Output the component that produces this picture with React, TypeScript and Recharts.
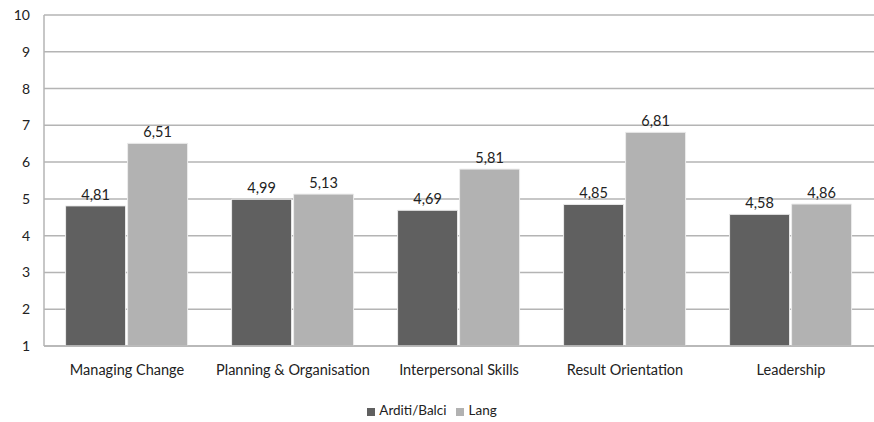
import React from 'react';
import { BarChart, Bar, XAxis, YAxis, CartesianGrid, Legend, LabelList } from 'recharts';

const categories = ['Managing Change', 'Planning & Organisation', 'Interpersonal Skills', 'Result Orientation', 'Leadership'];
const arditiBalci = [4.81, 4.99, 4.69, 4.85, 4.58];
const lang = [6.51, 5.13, 5.81, 6.81, 4.86];
const yTicks = [1, 2, 3, 4, 5, 6, 7, 8, 9, 10];

const data = categories.map((name, i) => ({ name, arditi: arditiBalci[i], lang: lang[i] }));

const fmt = (v: any) => Number(v).toFixed(2).replace('.', ',');

const font = 'Lato, "Open Sans", sans-serif';

export default function App() {
  return (
    <div style={{ position: 'absolute', left: 0, top: 0, background: '#fff', fontFamily: font }}>
      <BarChart
        width={874}
        height={422}
        data={data}
        margin={{ top: 15, right: 0, left: 0, bottom: 0 }}
        barCategoryGap="13%"
        barGap={2}
      >
        <CartesianGrid vertical={false} stroke="#b4b4b4" strokeWidth={1.5} />
        <XAxis
          dataKey="name"
          height={52}
          axisLine={{ stroke: '#b4b4b4', strokeWidth: 1.5 }}
          tickLine={false}
          tickSize={0}
          tickMargin={19}
          tick={{ fill: '#222', fontSize: 14.5, fontFamily: font }}
          interval={0}
        />
        <YAxis
          width={44}
          domain={[1, 10]}
          ticks={yTicks}
          allowDataOverflow
          axisLine={{ stroke: '#b4b4b4', strokeWidth: 1.5 }}
          tickLine={false}
          tickSize={0}
          tickMargin={14}
          tick={{ fill: '#222', fontSize: 14, fontFamily: font }}
        />
        <Legend
          verticalAlign="bottom"
          height={24}
          iconType="square"
          iconSize={8}
          wrapperStyle={{ fontSize: 13.5, fontFamily: font, color: '#222', bottom: -4 }}
          formatter={(value) => <span style={{ color: '#222' }}>{value}</span>}
        />
        <Bar dataKey="arditi" name="Arditi/Balci" fill="#606060" stroke="#ececec" strokeWidth={1} isAnimationActive={false}>
          <LabelList dataKey="arditi" position="top" offset={6} formatter={fmt} style={{ fill: '#222', fontSize: 14.5, fontFamily: font }} />
        </Bar>
        <Bar dataKey="lang" name="Lang" fill="#b2b2b2" stroke="#ececec" strokeWidth={1} isAnimationActive={false}>
          <LabelList dataKey="lang" position="top" offset={6} formatter={fmt} style={{ fill: '#222', fontSize: 14.5, fontFamily: font }} />
        </Bar>
      </BarChart>
    </div>
  );
}
